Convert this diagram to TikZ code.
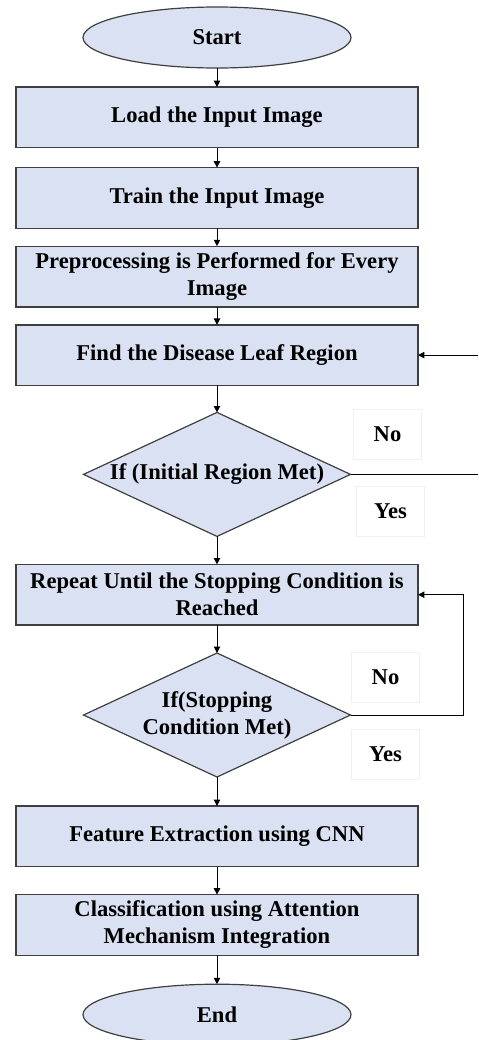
\documentclass[tikz,border=0pt]{standalone}
\usepackage{fontspec}
\setmainfont{Liberation Serif}
\usetikzlibrary{arrows.meta,positioning,shapes.geometric,calc}
\definecolor{boxfill}{HTML}{D9E1F2}
\definecolor{boxline}{HTML}{3F3F3F}
\newcommand{\flowfont}{\bfseries\fontsize{11.3}{13.5}\selectfont}

\begin{document}
\begin{tikzpicture}[
  node distance=9.5pt,
  proc_box/.style={draw=boxline, line width=0.7pt, fill=boxfill, minimum width=201pt, minimum height=30.3pt, align=center, inner sep=1pt, outer sep=0pt, font=\flowfont},
  term_box/.style={ellipse, draw=boxline, line width=0.6pt, fill=boxfill, minimum width=134pt, minimum height=30.5pt, inner sep=0pt, outer sep=0pt, font=\flowfont},
  dec_box/.style ={diamond, draw=boxline, line width=0.6pt, fill=boxfill, minimum width=133.5pt, minimum height=62pt, inner sep=0pt, outer sep=0pt},
  dec_text/.style={align=center, inner sep=0pt, font=\flowfont},
  lbl/.style     ={fill=white, draw=black!6, minimum width=34pt, minimum height=25pt, inner sep=1pt, font=\flowfont},
  arr/.style     ={-{Triangle[length=3.2pt,width=3.2pt]}, line width=0.5pt, black},
  line/.style    ={line width=0.5pt, black},
]
  \useasboundingbox (0,0) rectangle (239pt,-520pt);
  \coordinate (rightedge) at (239pt,0);

  \node[term_box]                       (start)  at (108.5pt,-18.75pt) {Start};
  \node[proc_box, below=of start]       (load)   {Load the Input Image};
  \node[proc_box, below=10pt of load]   (train)  {Train the Input Image};
  \node[proc_box, below=9pt of train]   (prep)   {Preprocessing is Performed for Every\\Image};
  \node[proc_box, below=9pt of prep]    (find)   {Find the Disease Leaf Region};
  \node[dec_box, below=13.5pt of find, label={[dec_text]center:If (Initial Region Met)}] (dec1) {};
  \node[proc_box, below=14pt of dec1]   (repeat) {Repeat Until the Stopping Condition is\\Reached};
  \node[dec_box, below=14pt of repeat, label={[dec_text]center:If(Stopping\\Condition Met)}] (dec2) {};
  \node[proc_box, below=14.5pt of dec2] (feat)   {Feature Extraction using CNN};
  \node[proc_box, below=14pt of feat]   (cls)    {Classification using Attention\\Mechanism Integration};
  \node[term_box, below=14.5pt of cls]  (end)    {End};

  \node[lbl] (no1)  at ($(dec1.east)+(18.5pt,20pt)$)    {No};
  \node[lbl] (yes1) at ($(dec1.east)+(20pt,-18.5pt)$)   {Yes};
  \node[lbl] (no2)  at ($(dec2.east)+(17.5pt,19pt)$)    {No};
  \node[lbl] (yes2) at ($(dec2.east)+(17.5pt,-19.5pt)$) {Yes};

  \coordinate (no1out)  at (dec1.east -| rightedge);
  \coordinate (no1back) at (find.east -| rightedge);

  \draw[arr] (start) -- (load);
  \draw[arr] (load) -- (train);
  \draw[arr] (train) -- (prep);
  \draw[arr] (prep) -- (find);
  \draw[arr] (find) -- (dec1);
  \draw[arr] (dec1) -- (repeat);
  \draw[arr] (repeat) -- (dec2);
  \draw[arr] (dec2) -- (feat);
  \draw[arr] (feat) -- (cls);
  \draw[arr] (cls) -- (end);
  \draw[line] (dec1.east) -- (no1out);
  \draw[arr] (no1back) -- (find.east);
  \draw[arr] (dec2.east) -- ++(56.25pt,0) |- (repeat.east);
\end{tikzpicture}
\end{document}
